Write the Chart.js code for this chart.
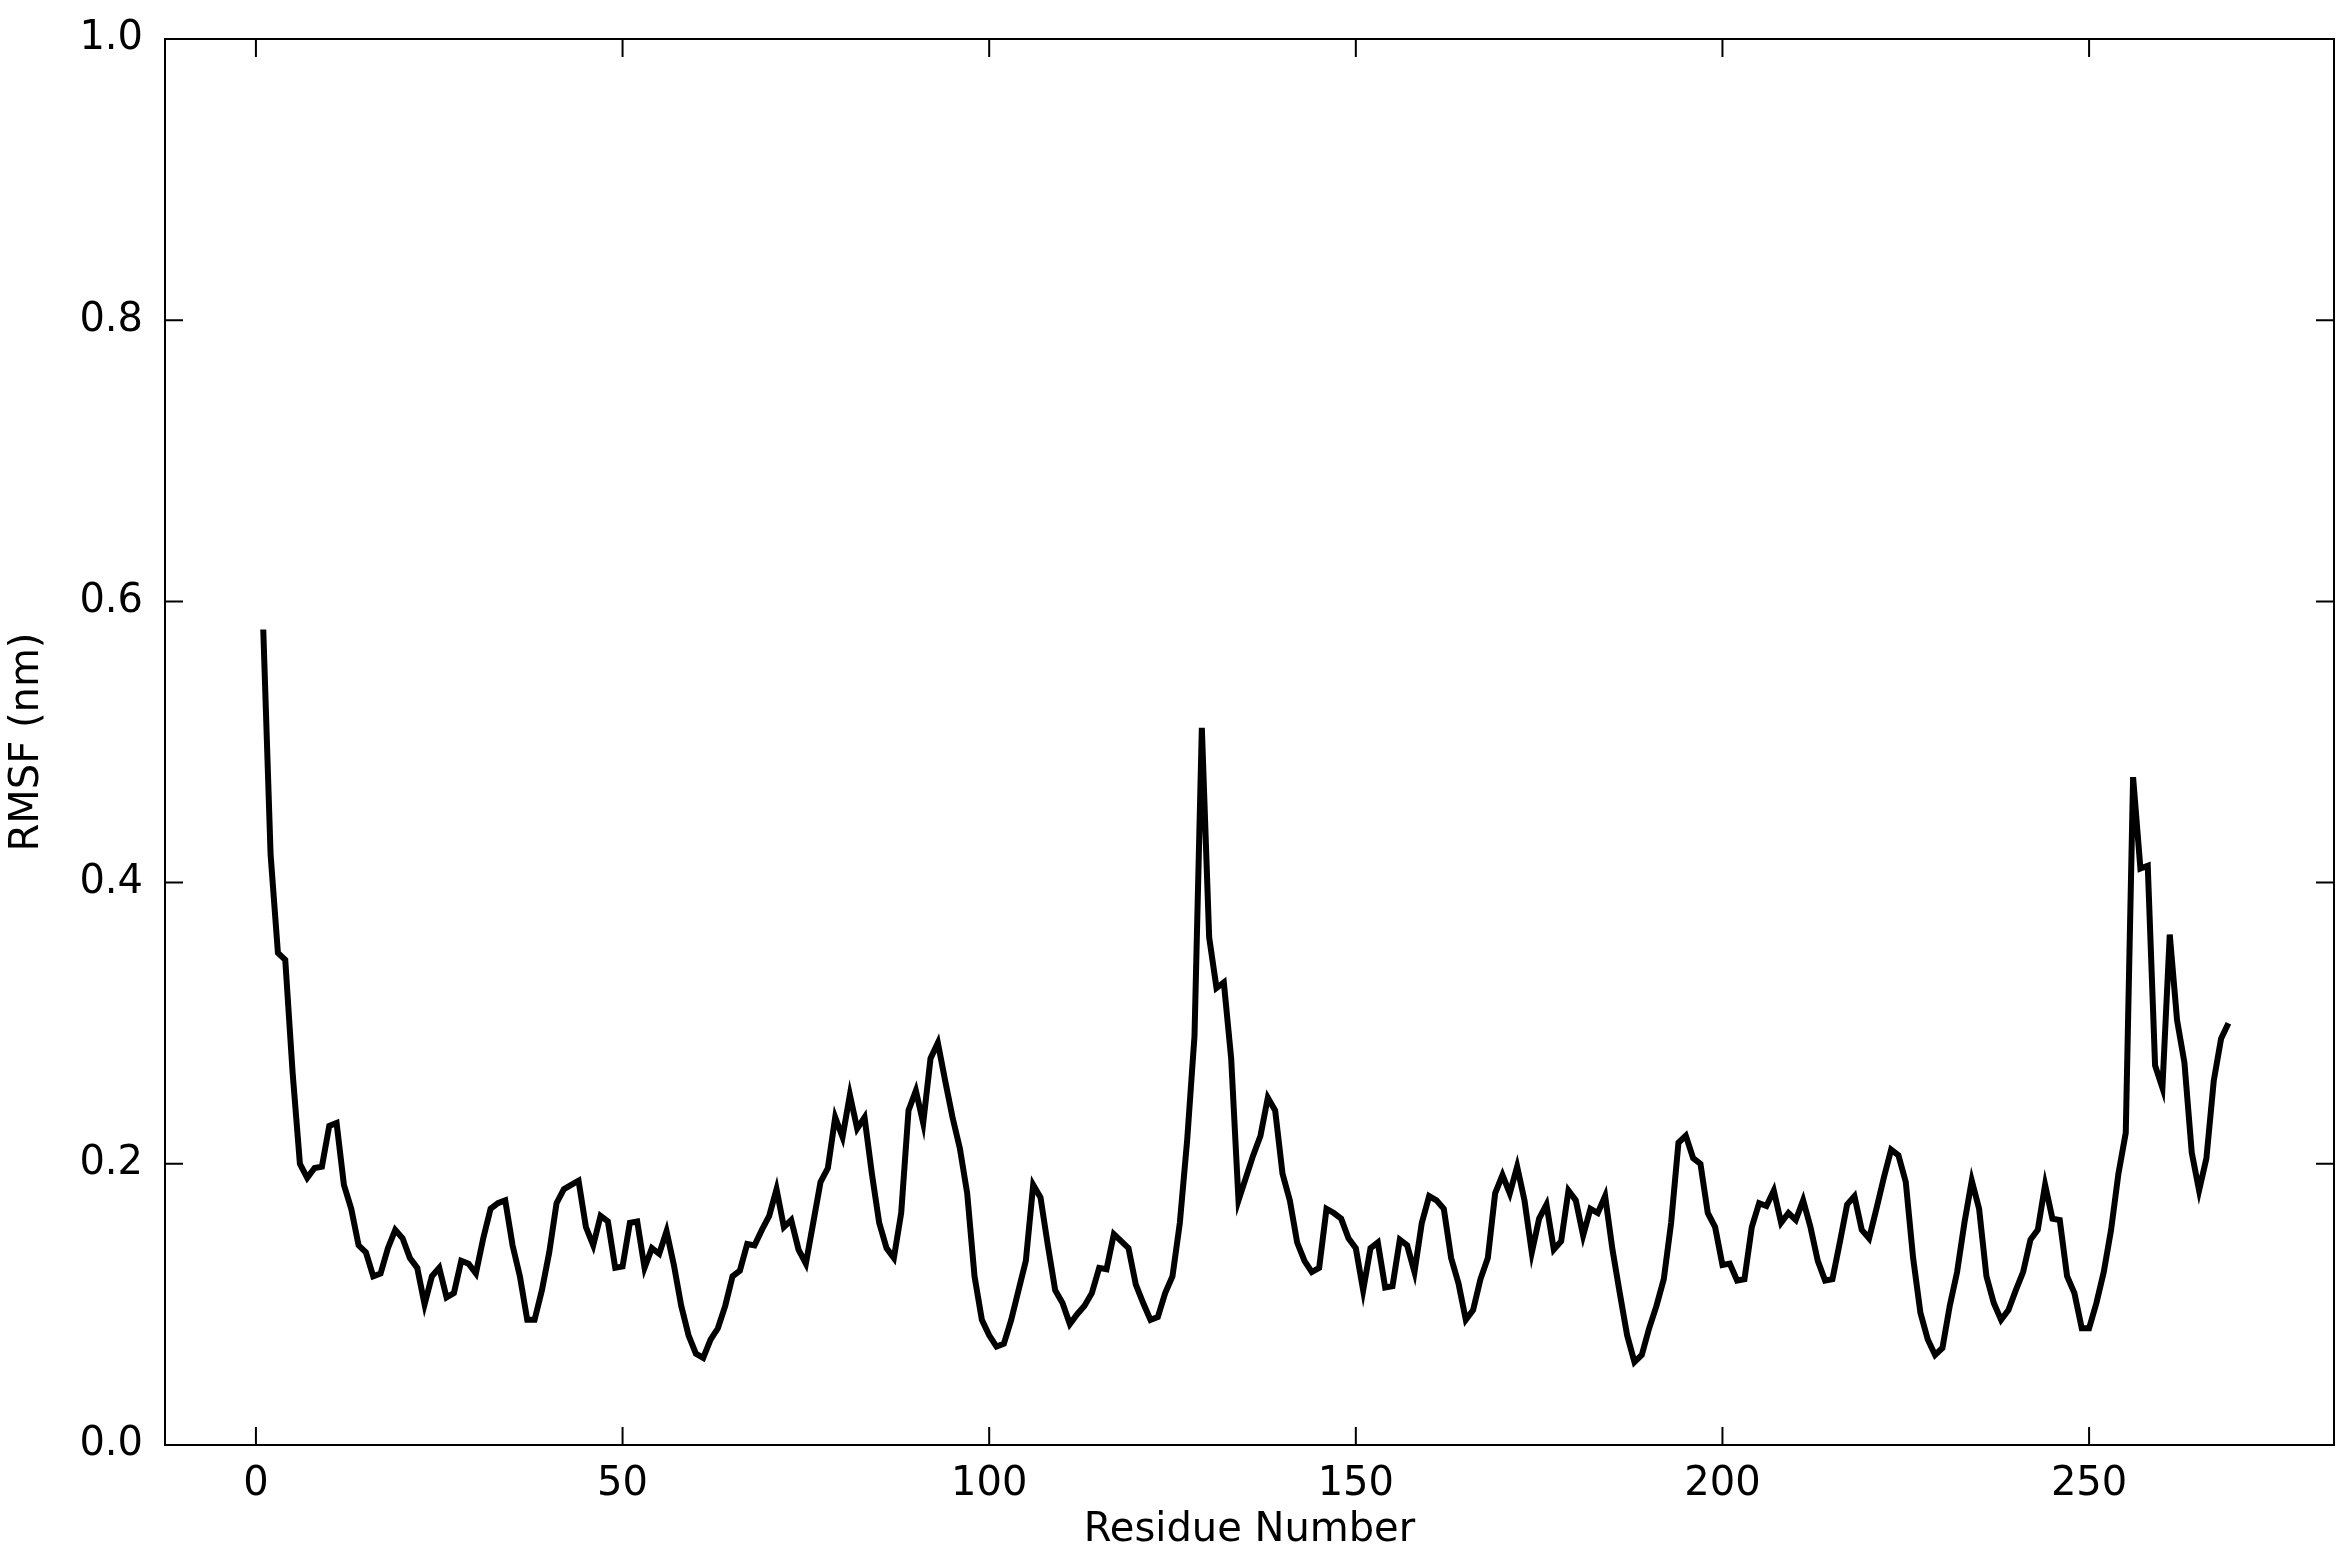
<!DOCTYPE html>
<html><head><meta charset="utf-8">
<script src="https://cdn.jsdelivr.net/npm/chart.js@4.4.1/dist/chart.umd.min.js"></script>
<style>body{margin:0;background:#fff}canvas{display:block}</style>
</head><body>
<canvas id="c" width="2352" height="1567"></canvas>
<script>
// RMSF per residue (nm), residues 1..269
const rmsf=[0.58,0.42,0.35,0.345,0.265,0.20,0.19,0.197,0.198,0.227,0.229,0.185,0.168,0.142,0.137,0.12,0.122,0.14,0.153,0.147,
0.133,0.126,0.10,0.12,0.126,0.105,0.108,0.131,0.129,0.122,0.147,0.168,0.172,0.174,0.142,0.12,0.089,0.089,0.11,0.137,
0.172,0.182,0.185,0.188,0.155,0.142,0.163,0.159,0.126,0.127,0.158,0.159,0.126,0.14,0.136,0.152,0.128,0.099,0.078,0.065,
0.062,0.075,0.083,0.099,0.12,0.124,0.143,0.142,0.153,0.163,0.182,0.155,0.16,0.139,0.129,0.158,0.187,0.197,0.233,0.219,
0.249,0.225,0.233,0.193,0.158,0.14,0.133,0.165,0.238,0.252,0.229,0.275,0.286,0.259,0.233,0.211,0.179,0.12,0.089,0.078,
0.07,0.072,0.089,0.11,0.131,0.185,0.176,0.142,0.11,0.101,0.086,0.093,0.099,0.108,0.126,0.125,0.15,0.145,0.14,0.114,
0.101,0.089,0.091,0.108,0.12,0.158,0.217,0.291,0.51,0.361,0.325,0.329,0.275,0.174,0.19,0.206,0.22,0.247,0.238,0.193,
0.174,0.144,0.131,0.123,0.126,0.168,0.165,0.161,0.147,0.14,0.11,0.14,0.144,0.112,0.113,0.146,0.142,0.123,0.158,0.177,
0.174,0.168,0.133,0.115,0.089,0.096,0.118,0.133,0.179,0.192,0.179,0.198,0.174,0.137,0.161,0.171,0.139,0.145,0.181,0.174,
0.149,0.168,0.165,0.177,0.139,0.108,0.078,0.059,0.064,0.083,0.099,0.118,0.158,0.215,0.22,0.204,0.2,0.165,0.155,0.128,
0.129,0.117,0.118,0.155,0.172,0.17,0.181,0.158,0.165,0.16,0.174,0.155,0.131,0.117,0.118,0.144,0.171,0.177,0.153,0.147,
0.168,0.19,0.21,0.206,0.187,0.133,0.094,0.075,0.064,0.069,0.099,0.123,0.158,0.188,0.168,0.12,0.101,0.089,0.096,0.11,
0.123,0.146,0.153,0.185,0.161,0.16,0.12,0.108,0.083,0.083,0.101,0.123,0.153,0.193,0.222,0.475,0.41,0.412,0.27,0.254,
0.363,0.302,0.272,0.208,0.181,0.204,0.259,0.289,0.30];
const residues=rmsf.map((v,i)=>i+1);
const xTicks=[0,50,100,150,200,250];
const yTicks=[0,0.2,0.4,0.6,0.8,1.0];
const FONT={family:'DejaVu Sans',size:40};

// box and inward ticks on all four sides
const frame={id:'frame',afterDraw(ch){
  const {ctx,chartArea:a,scales:{x,y}}=ch;const L=18;
  ctx.save();ctx.strokeStyle='#000';ctx.lineWidth=2;
  ctx.strokeRect(a.left,a.top,a.right-a.left,a.bottom-a.top);
  ctx.beginPath();
  xTicks.forEach(v=>{const p=x.getPixelForValue(v);ctx.moveTo(p,a.bottom);ctx.lineTo(p,a.bottom-L);ctx.moveTo(p,a.top);ctx.lineTo(p,a.top+L);});
  yTicks.forEach(v=>{const p=y.getPixelForValue(v);ctx.moveTo(a.left,p);ctx.lineTo(a.left+L,p);ctx.moveTo(a.right,p);ctx.lineTo(a.right-L,p);});
  ctx.stroke();ctx.restore();}};

new Chart(document.getElementById('c'),{type:'line',
  data:{labels:residues,datasets:[{data:residues.map((r,i)=>({x:r,y:rmsf[i]})),borderColor:'#000',borderWidth:6,pointRadius:0,tension:0,fill:false}]},
  options:{responsive:false,animation:false,devicePixelRatio:1,
    layout:{padding:{top:39,right:18,bottom:8,left:0}},
    plugins:{legend:{display:false},tooltip:{enabled:false}},
    scales:{
      x:{type:'linear',min:-12.4,max:283.4,grid:{display:false},border:{display:false},
        afterBuildTicks:s=>{s.ticks=xTicks.map(v=>({value:v}));},
        afterFit:s=>{s.height=114;},
        ticks:{color:'#000',font:FONT,padding:8,maxRotation:0,callback:v=>v},
        title:{display:true,text:'Residue Number',color:'#000',font:FONT,padding:{top:0}}},
      y:{min:0,max:1,grid:{display:false},border:{display:false},
        afterBuildTicks:s=>{s.ticks=yTicks.map(v=>({value:v}));},
        afterFit:s=>{s.width=165;},
        ticks:{color:'#000',font:FONT,padding:14,callback:v=>v.toFixed(1)},
        title:{display:true,text:'RMSF (nm)',color:'#000',font:FONT,padding:{bottom:0}}}}},
  plugins:[frame]});
</script>
</body></html>
